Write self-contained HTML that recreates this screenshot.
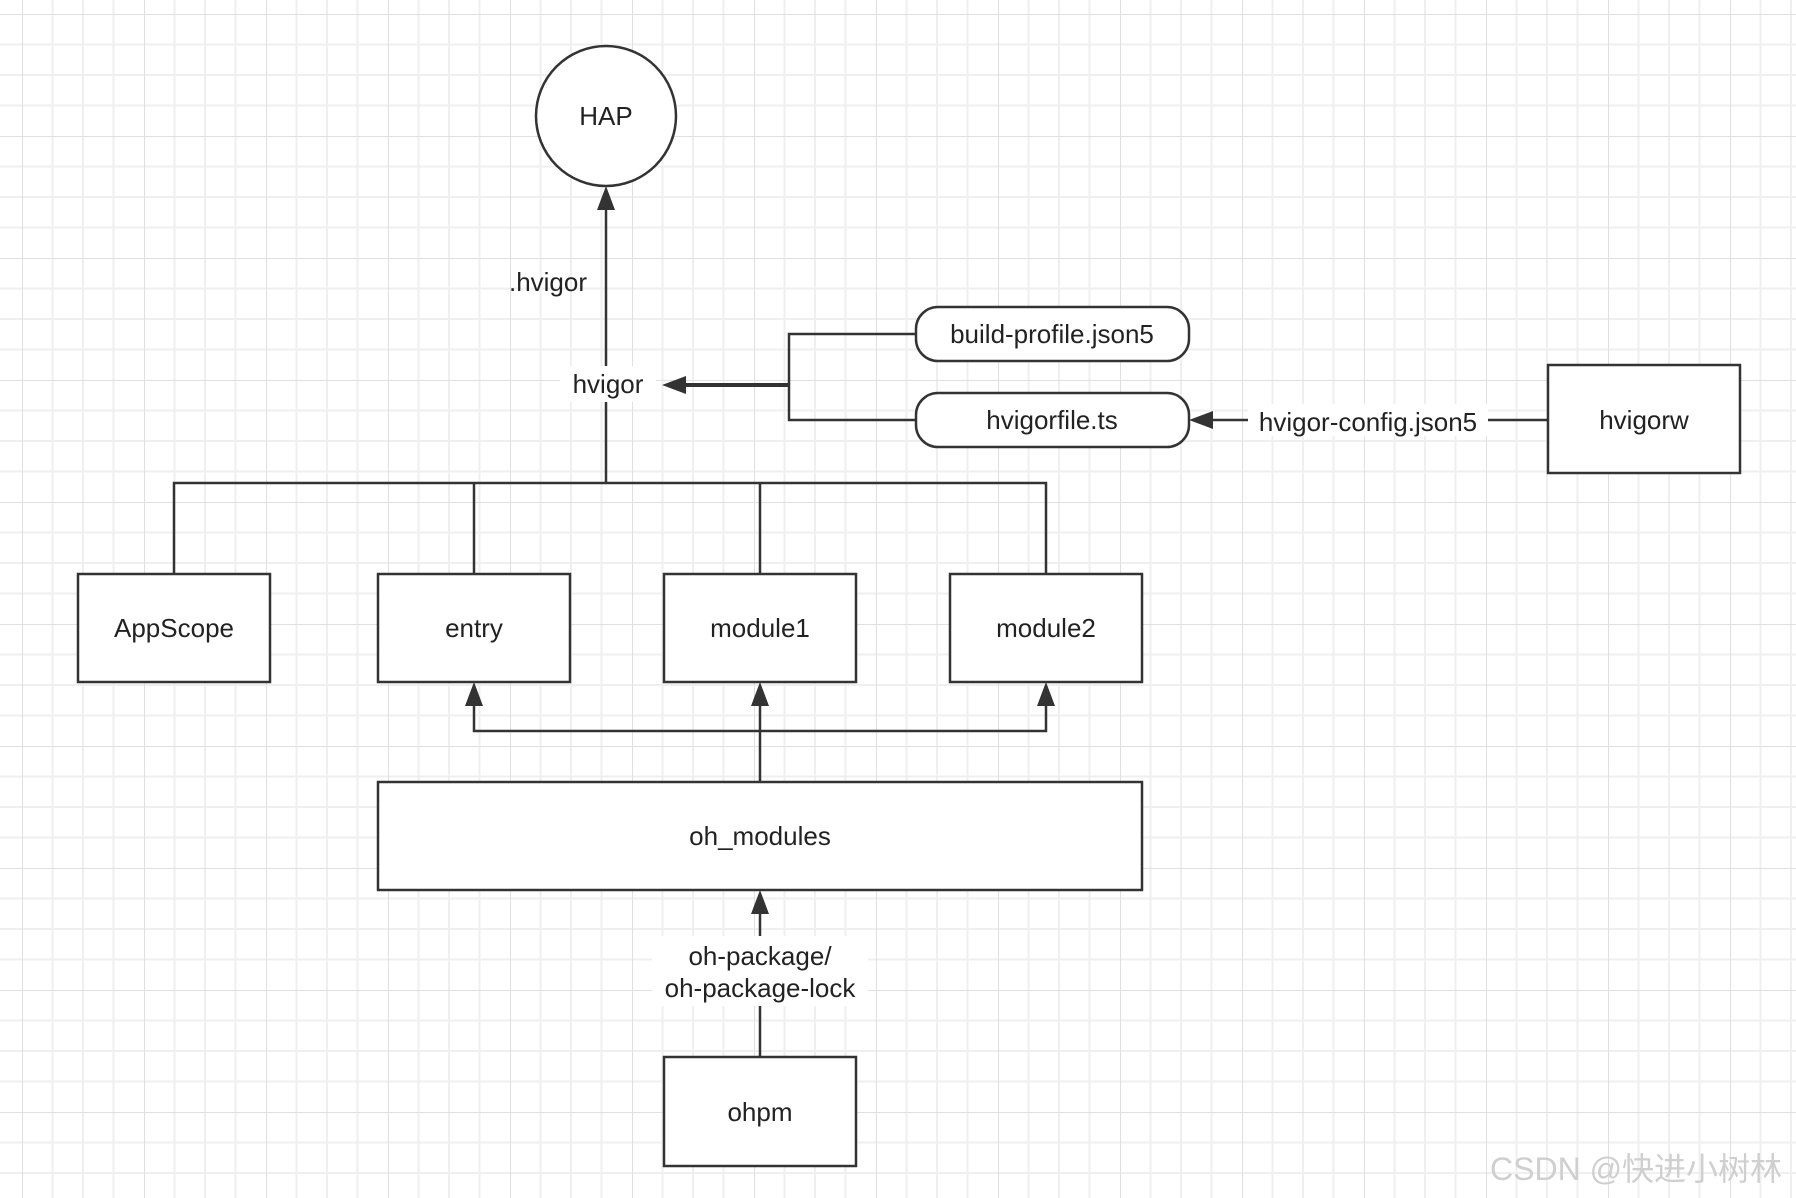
<!DOCTYPE html>
<html><head><meta charset="utf-8"><style>
html,body{margin:0;padding:0;background:#fff}
svg{display:block}
text{font-family:"Liberation Sans","Noto Sans CJK SC",sans-serif;fill:#222}
</style></head><body>
<svg width="1796" height="1198" viewBox="0 0 1796 1198" xmlns="http://www.w3.org/2000/svg">
<defs>
<pattern id="g" x="22" y="14" width="122" height="122" patternUnits="userSpaceOnUse">
<path d="M0 0V122M30.5 0V122M61 0V122M91.5 0V122M0 0H122M0 30.5H122M0 61H122M0 91.5H122" stroke="#efefef" stroke-width="2" fill="none"/>
<path d="M0 0V122M0 0H122" stroke="#e0e0e0" stroke-width="2" fill="none"/>
</pattern>
</defs>
<rect width="1796" height="1198" fill="url(#g)"/>
<g stroke="#333" stroke-width="2.5" fill="none">
<circle cx="606" cy="116" r="70" fill="#fff"/>
<line x1="606" y1="205" x2="606" y2="366"/>
<line x1="606" y1="402" x2="606" y2="483"/>
<path d="M916 334H789V420H916"/>
<line x1="789" y1="385" x2="684" y2="385" stroke-width="4"/>
<rect x="916" y="307" width="273" height="54" rx="22" fill="#fff"/>
<rect x="916" y="393" width="273" height="54" rx="22" fill="#fff"/>
<rect x="1548" y="365" width="192" height="108" fill="#fff"/>
<line x1="1548" y1="420" x2="1210" y2="420"/>
<path d="M174 574V483H1046V574"/>
<line x1="474" y1="483" x2="474" y2="574"/>
<line x1="760" y1="483" x2="760" y2="574"/>
<rect x="78" y="574" width="192" height="108" fill="#fff"/>
<rect x="378" y="574" width="192" height="108" fill="#fff"/>
<rect x="664" y="574" width="192" height="108" fill="#fff"/>
<rect x="950" y="574" width="192" height="108" fill="#fff"/>
<path d="M474 702V731H1046V702"/>
<line x1="760" y1="702" x2="760" y2="782"/>
<rect x="378" y="782" width="764" height="108" fill="#fff"/>
<line x1="760" y1="910" x2="760" y2="1057"/>
<rect x="664" y="1057" width="192" height="109" fill="#fff"/>
</g>
<g fill="#333">
<polygon points="606,186 597,210 615,210"/>
<polygon points="662,385 686,376 686,394"/>
<polygon points="1189,420 1213,411 1213,429"/>
<polygon points="474,682 465,706 483,706"/>
<polygon points="760,682 751,706 769,706"/>
<polygon points="1046,682 1037,706 1055,706"/>
<polygon points="760,890 751,914 769,914"/>
</g>
<rect x="560" y="366" width="96" height="36" fill="#fff"/>
<rect x="1248" y="404" width="240" height="32" fill="#fff"/>
<rect x="652" y="936" width="216" height="70" fill="#fff"/>
<g font-size="26" text-anchor="middle">
<text x="606" y="125">HAP</text>
<text x="548" y="291">.hvigor</text>
<text x="608" y="393">hvigor</text>
<text x="1052" y="343">build-profile.json5</text>
<text x="1052" y="429">hvigorfile.ts</text>
<text x="1368" y="431">hvigor-config.json5</text>
<text x="1644" y="429">hvigorw</text>
<text x="174" y="637">AppScope</text>
<text x="474" y="637">entry</text>
<text x="760" y="637">module1</text>
<text x="1046" y="637">module2</text>
<text x="760" y="845">oh_modules</text>
<text x="760" y="965">oh-package/</text>
<text x="760" y="997">oh-package-lock</text>
<text x="760" y="1121">ohpm</text>
</g>
<text x="1490" y="1180" font-size="32" style="fill:#cfcfcf">CSDN @快进小树林</text>
</svg>
</body></html>
